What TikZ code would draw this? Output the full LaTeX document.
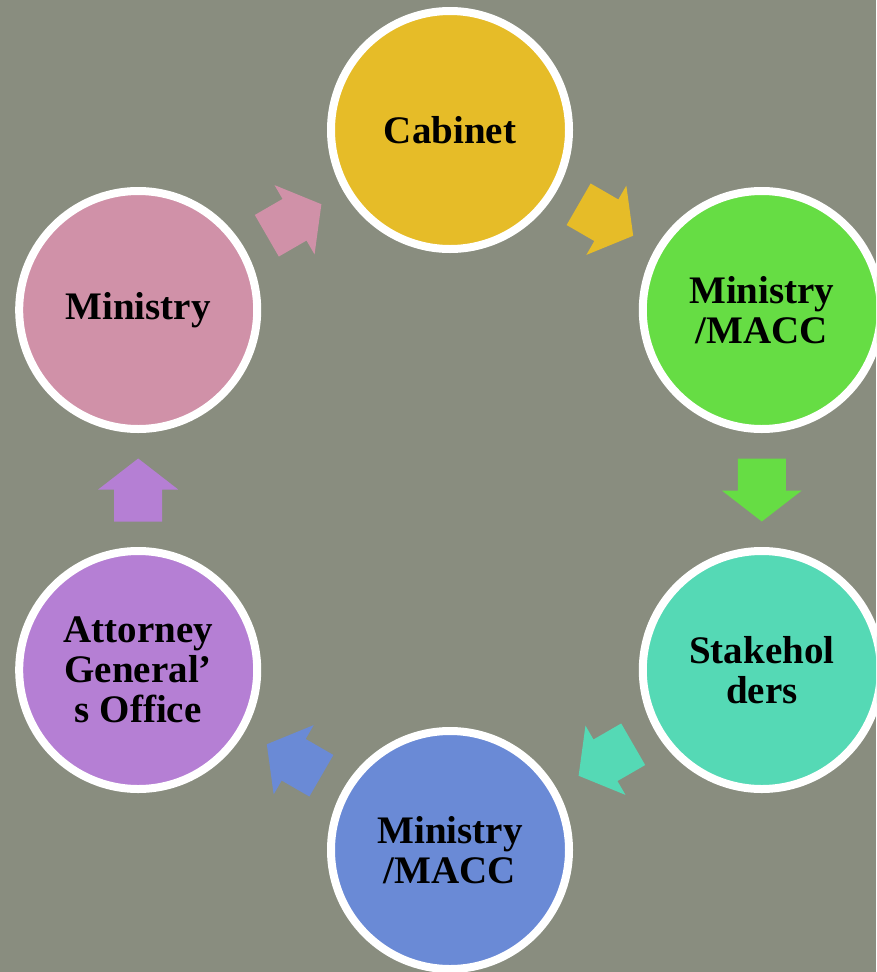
\documentclass[tikz,border=0pt]{standalone}
\usepackage{fontspec}
\setmainfont{Liberation Serif}
\usetikzlibrary{calc}
\definecolor{bgc}{RGB}{137,141,127}
\definecolor{cabc}{RGB}{230,188,40}
\definecolor{greenc}{RGB}{102,221,68}
\definecolor{tealc}{RGB}{85,217,181}
\definecolor{bluec}{RGB}{106,138,214}
\definecolor{purplec}{RGB}{181,127,212}
\definecolor{pinkc}{RGB}{208,145,168}
\begin{document}
\begin{tikzpicture}[x=1pt,y=-1pt,
  stage/.style={circle, draw=white, line width=8pt, minimum size=238pt, inner sep=0pt,
    align=center, text=black, font=\bfseries\fontsize{39}{40}\selectfont},
  blockarrow/.pic={\fill[pic actions] (-31.5,-24) -- (0.5,-24) -- (0.5,-40) -- (31.5,0)
     -- (0.5,40) -- (0.5,24) -- (-31.5,24) -- cycle;}]
\useasboundingbox (0,0) rectangle (876,972);
\clip (0,0) rectangle (876,972);
\fill[bgc] (0,0) rectangle (876,972);

\node[stage, fill=cabc]    (cab)  at (450,130)   {Cabinet};
\node[stage, fill=greenc]  (macc1) at (761.8,310) {Ministry\\/MACC};
\node[stage, fill=tealc]   (stake) at (761.8,670) {Stakehol\\ders};
\node[stage, fill=bluec]   (macc2) at (450,850)   {Ministry\\/MACC};
\node[stage, fill=purplec] (ag)    at (138.2,670) {Attorney\\General’\\s Office};
\node[stage, fill=pinkc]   (min)   at (138.2,310) {Ministry};

\pic[fill=pinkc, rotate=30]    at ($(min)!0.5!(cab)$)     {blockarrow};
\pic[fill=cabc, rotate=-30]    at ($(cab)!0.5!(macc1)$)   {blockarrow};
\pic[fill=greenc, rotate=-90]  at ($(macc1)!0.5!(stake)$) {blockarrow};
\pic[fill=tealc, rotate=210]   at ($(stake)!0.5!(macc2)$) {blockarrow};
\pic[fill=bluec, rotate=150]   at ($(macc2)!0.5!(ag)$)    {blockarrow};
\pic[fill=purplec, rotate=90]  at ($(ag)!0.5!(min)$)      {blockarrow};
\end{tikzpicture}
\end{document}
